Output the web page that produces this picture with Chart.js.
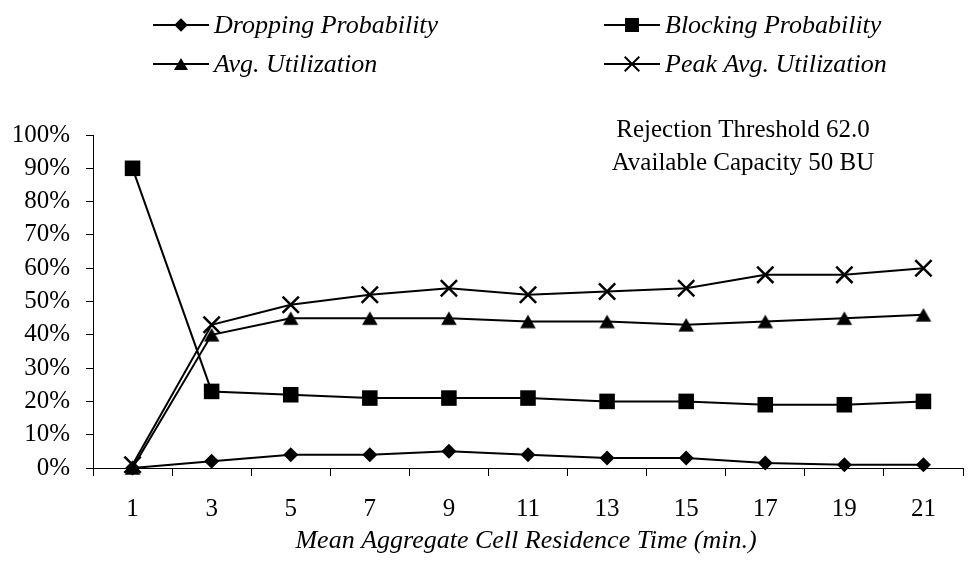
<!DOCTYPE html>
<html>
<head>
<meta charset="utf-8">
<title>Residence time vs probability / utilization</title>
<script src="https://cdn.jsdelivr.net/npm/chart.js@4.4.0/dist/chart.umd.min.js"></script>
<style>
  html, body { margin: 0; padding: 0; background: #fff; }
  #wrap { width: 977px; height: 573px; }
  canvas { display: block; }
</style>
</head>
<body>
<div id="wrap"><canvas id="residenceChart" width="977" height="573"></canvas></div>
<script>
// x categories: mean aggregate cell residence time (min.)
var residenceTimes = ['1', '3', '5', '7', '9', '11', '13', '15', '17', '19', '21'];

// series values in percent
var droppingProb = [0, 2, 4, 4, 5, 4, 3, 3, 1.5, 1, 1];
var blockingProb = [90, 23, 22, 21, 21, 21, 20, 20, 19, 19, 20];
var avgUtil      = [0, 40, 45, 45, 45, 44, 44, 43, 44, 45, 46];
var peakAvgUtil  = [1, 43, 49, 52, 54, 52, 53, 54, 58, 58, 60];

var seriesNames = ['Dropping Probability', 'Blocking Probability', 'Avg. Utilization', 'Peak Avg. Utilization'];
var seriesMarkers = ['rectRot', 'rect', 'triangle', 'crossRot'];
var markerRadius = [7.5, 11, 9, 11.5];

var yMin = 0, yMax = 100, yStep = 10;
var noteLines = ['Rejection Threshold 62.0', 'Available Capacity 50 BU'];
var xTitle = 'Mean Aggregate Cell Residence Time (min.)';

var serif = '"Liberation Serif", "Times New Roman", Times, serif';

// little marker painter, used for the legend and the triangle sprite
function drawMarker(ctx, style, x, y, r) {
  ctx.beginPath();
  if (style == 'rectRot') {
    ctx.moveTo(x - r, y); ctx.lineTo(x, y - r); ctx.lineTo(x + r, y); ctx.lineTo(x, y + r);
    ctx.closePath(); ctx.fill();
  } else if (style == 'rect') {
    var s = Math.SQRT1_2 * r;
    ctx.rect(x - s, y - s, 2 * s, 2 * s); ctx.fill();
  } else if (style == 'triangle') {
    // centred on its bounding box, not on the centroid
    var h = 0.75 * r;
    ctx.moveTo(x, y - h);
    ctx.lineTo(x + 0.866 * r, y + h);
    ctx.lineTo(x - 0.866 * r, y + h);
    ctx.closePath(); ctx.fill();
  } else {
    var d = Math.SQRT1_2 * r;
    ctx.moveTo(x - d, y - d); ctx.lineTo(x + d, y + d);
    ctx.moveTo(x - d, y + d); ctx.lineTo(x + d, y - d);
    ctx.stroke();
  }
}

// triangle as a sprite so it sits centred on the point
function triangleSprite(r) {
  var c = document.createElement('canvas');
  var size = Math.ceil(2 * r) + 2;
  c.width = size; c.height = size;
  var g = c.getContext('2d');
  g.fillStyle = '#000';
  drawMarker(g, 'triangle', size / 2, size / 2, r);
  return c;
}

var extrasPlugin = {
  id: 'extras',
  afterDraw: function (chart) {
    var ctx = chart.ctx;
    ctx.save();
    ctx.fillStyle = '#000';
    ctx.strokeStyle = '#000';
    ctx.lineWidth = 2;

    // legend, two columns by two rows
    var cols = [153, 604];
    var rows = [25, 64];
    ctx.font = 'italic 26px ' + serif;
    ctx.textBaseline = 'middle';
    ctx.textAlign = 'left';
    for (var i = 0; i < seriesNames.length; i++) {
      var lx = cols[i % 2];
      var ly = rows[Math.floor(i / 2)];
      ctx.beginPath();
      ctx.moveTo(lx, ly);
      ctx.lineTo(lx + 56, ly);
      ctx.stroke();
      drawMarker(ctx, seriesMarkers[i], lx + 28, ly, markerRadius[i] * 0.9);
      ctx.fillText(seriesNames[i], lx + 61, ly + 1);
    }

    // note in the upper right of the plot
    ctx.font = '25px ' + serif;
    ctx.textAlign = 'center';
    ctx.fillText(noteLines[0], 743, 130);
    ctx.fillText(noteLines[1], 743, 163);

    // x axis title
    ctx.font = 'italic 26px ' + serif;
    ctx.fillText(xTitle, 526, 541);
    ctx.restore();
  }
};

function makeSet(i, values) {
  var style = seriesMarkers[i];
  if (style == 'triangle') style = triangleSprite(markerRadius[i]);
  return {
    label: seriesNames[i],
    data: values,
    borderColor: '#000',
    backgroundColor: '#000',
    borderWidth: 2,
    pointStyle: style,
    pointRadius: markerRadius[i],
    pointHoverRadius: markerRadius[i],
    pointBorderWidth: seriesMarkers[i] == 'crossRot' ? 2.5 : 0,
    pointBackgroundColor: '#000',
    pointBorderColor: '#000',
    tension: 0,
    clip: false
  };
}

var chart = new Chart('residenceChart', {
  type: 'line',
  data: {
    labels: residenceTimes,
    datasets: [
      makeSet(0, droppingProb),
      makeSet(1, blockingProb),
      makeSet(2, avgUtil),
      makeSet(3, peakAvgUtil)
    ]
  },
  options: {
    responsive: false,
    animation: false,
    layout: { padding: { left: 0, right: 7, top: 135, bottom: 0 } },
    plugins: {
      legend: { display: false },
      tooltip: { enabled: false }
    },
    scales: {
      x: {
        offset: true,
        grid: { offset: true, drawOnChartArea: false, drawTicks: true, tickLength: 8, color: '#000', lineWidth: 1 },
        border: { color: '#000', width: 1 },
        ticks: { color: '#000', padding: 18, maxRotation: 0, font: { family: serif, size: 25 } },
        afterFit: function (scale) { scale.height = 105; }
      },
      y: {
        min: yMin,
        max: yMax,
        grid: { drawOnChartArea: false, drawTicks: true, tickLength: 7, color: '#000', lineWidth: 1 },
        border: { color: '#000', width: 1 },
        ticks: {
          stepSize: yStep,
          color: '#000',
          padding: 16,
          font: { family: serif, size: 25 },
          callback: function (v) { return v + '%'; }
        },
        afterFit: function (scale) { scale.width = 93; }
      }
    }
  },
  plugins: [extrasPlugin]
});
</script>
</body>
</html>
